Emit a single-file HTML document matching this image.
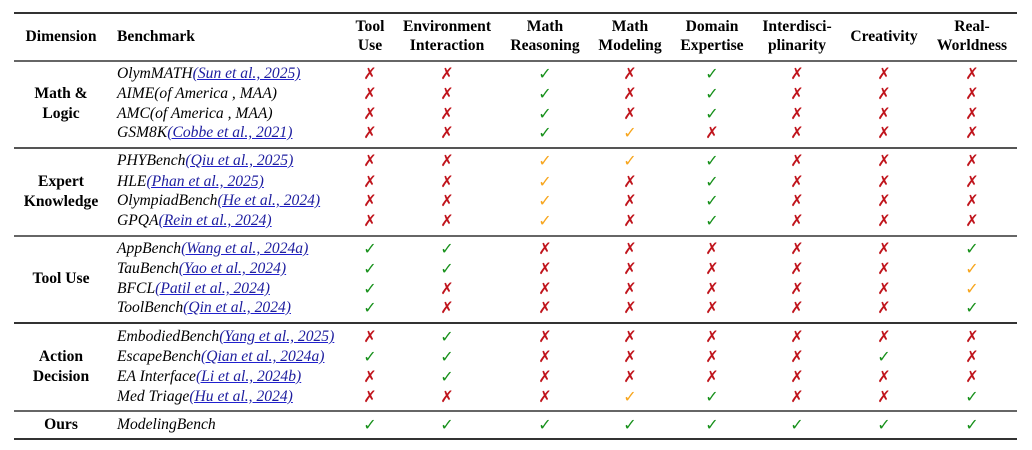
<!DOCTYPE html>
<html><head><meta charset="utf-8"><style>
body{margin:0;width:1032px;height:450px;background:#fff;position:relative;overflow:hidden;font-family:"Liberation Serif",serif;font-size:15.6px;color:#000}
.l{position:absolute;left:14px;width:1003px;background:#333}
.h{position:absolute;font-weight:bold;text-align:center;line-height:19px}
.r{position:absolute;left:0;width:1032px;height:20px;line-height:20px}
.r span{position:absolute;top:0}
.b{left:117px;font-style:italic;white-space:nowrap}
.b a{color:#1d1d9e;text-decoration:underline;text-decoration-color:#2020d0}
.c{width:40px;text-align:center;font-family:"DejaVu Sans",sans-serif;font-size:16px;font-weight:bold}
.g{color:#16901a}.o{color:#f7a51c}.x{color:#c0141c}
.c1{left:350px}.c2{left:427px}.c3{left:525px}.c4{left:610px}.c5{left:692px}.c6{left:777px}.c7{left:864px}.c8{left:952px}
.d{position:absolute;width:100px;left:11px;text-align:center;font-weight:bold;line-height:20px}
</style></head><body>
<div class="l" style="top:12px;height:2px"></div>
<div class="l" style="top:60px;height:2px;background:#666"></div>
<div class="l" style="top:147px;height:2px;background:#555"></div>
<div class="l" style="top:235px;height:2px;background:#666"></div>
<div class="l" style="top:322px;height:2px;background:#333"></div>
<div class="l" style="top:410px;height:2px;background:#666"></div>
<div class="l" style="top:438px;height:2px"></div>

<div class="h" style="left:11px;width:100px;top:27px">Dimension</div>
<div class="h" style="left:117px;top:27px;text-align:left">Benchmark</div>
<div class="h" style="left:330px;width:80px;top:17px">Tool<br>Use</div>
<div class="h" style="left:397px;width:100px;top:17px">Environment<br>Interaction</div>
<div class="h" style="left:495px;width:100px;top:17px">Math<br>Reasoning</div>
<div class="h" style="left:580px;width:100px;top:17px">Math<br>Modeling</div>
<div class="h" style="left:662px;width:100px;top:17px">Domain<br>Expertise</div>
<div class="h" style="left:747px;width:100px;top:17px">Interdisci-<br>plinarity</div>
<div class="h" style="left:834px;width:100px;top:27px">Creativity</div>
<div class="h" style="left:922px;width:100px;top:17px">Real-<br>Worldness</div>

<div class="d" style="top:84px">Math &amp;<br>Logic</div>
<div class="d" style="top:172px">Expert<br>Knowledge</div>
<div class="d" style="top:269px">Tool Use</div>
<div class="d" style="top:347px">Action<br>Decision</div>
<div class="d" style="top:415px">Ours</div>

<div class="r" style="top:64px"><span class="b">OlymMATH<a>(Sun et al., 2025)</a></span><span class="c c1 x">✗</span><span class="c c2 x">✗</span><span class="c c3 g">✓</span><span class="c c4 x">✗</span><span class="c c5 g">✓</span><span class="c c6 x">✗</span><span class="c c7 x">✗</span><span class="c c8 x">✗</span></div>
<div class="r" style="top:84px"><span class="b">AIME(of America , MAA)</span><span class="c c1 x">✗</span><span class="c c2 x">✗</span><span class="c c3 g">✓</span><span class="c c4 x">✗</span><span class="c c5 g">✓</span><span class="c c6 x">✗</span><span class="c c7 x">✗</span><span class="c c8 x">✗</span></div>
<div class="r" style="top:104px"><span class="b">AMC(of America , MAA)</span><span class="c c1 x">✗</span><span class="c c2 x">✗</span><span class="c c3 g">✓</span><span class="c c4 x">✗</span><span class="c c5 g">✓</span><span class="c c6 x">✗</span><span class="c c7 x">✗</span><span class="c c8 x">✗</span></div>
<div class="r" style="top:123px"><span class="b">GSM8K<a>(Cobbe et al., 2021)</a></span><span class="c c1 x">✗</span><span class="c c2 x">✗</span><span class="c c3 g">✓</span><span class="c c4 o">✓</span><span class="c c5 x">✗</span><span class="c c6 x">✗</span><span class="c c7 x">✗</span><span class="c c8 x">✗</span></div>

<div class="r" style="top:151px"><span class="b">PHYBench<a>(Qiu et al., 2025)</a></span><span class="c c1 x">✗</span><span class="c c2 x">✗</span><span class="c c3 o">✓</span><span class="c c4 o">✓</span><span class="c c5 g">✓</span><span class="c c6 x">✗</span><span class="c c7 x">✗</span><span class="c c8 x">✗</span></div>
<div class="r" style="top:172px"><span class="b">HLE<a>(Phan et al., 2025)</a></span><span class="c c1 x">✗</span><span class="c c2 x">✗</span><span class="c c3 o">✓</span><span class="c c4 x">✗</span><span class="c c5 g">✓</span><span class="c c6 x">✗</span><span class="c c7 x">✗</span><span class="c c8 x">✗</span></div>
<div class="r" style="top:191px"><span class="b">OlympiadBench<a>(He et al., 2024)</a></span><span class="c c1 x">✗</span><span class="c c2 x">✗</span><span class="c c3 o">✓</span><span class="c c4 x">✗</span><span class="c c5 g">✓</span><span class="c c6 x">✗</span><span class="c c7 x">✗</span><span class="c c8 x">✗</span></div>
<div class="r" style="top:211px"><span class="b">GPQA<a>(Rein et al., 2024)</a></span><span class="c c1 x">✗</span><span class="c c2 x">✗</span><span class="c c3 o">✓</span><span class="c c4 x">✗</span><span class="c c5 g">✓</span><span class="c c6 x">✗</span><span class="c c7 x">✗</span><span class="c c8 x">✗</span></div>

<div class="r" style="top:239px"><span class="b">AppBench<a>(Wang et al., 2024a)</a></span><span class="c c1 g">✓</span><span class="c c2 g">✓</span><span class="c c3 x">✗</span><span class="c c4 x">✗</span><span class="c c5 x">✗</span><span class="c c6 x">✗</span><span class="c c7 x">✗</span><span class="c c8 g">✓</span></div>
<div class="r" style="top:259px"><span class="b">TauBench<a>(Yao et al., 2024)</a></span><span class="c c1 g">✓</span><span class="c c2 g">✓</span><span class="c c3 x">✗</span><span class="c c4 x">✗</span><span class="c c5 x">✗</span><span class="c c6 x">✗</span><span class="c c7 x">✗</span><span class="c c8 o">✓</span></div>
<div class="r" style="top:279px"><span class="b">BFCL<a>(Patil et al., 2024)</a></span><span class="c c1 g">✓</span><span class="c c2 x">✗</span><span class="c c3 x">✗</span><span class="c c4 x">✗</span><span class="c c5 x">✗</span><span class="c c6 x">✗</span><span class="c c7 x">✗</span><span class="c c8 o">✓</span></div>
<div class="r" style="top:298px"><span class="b">ToolBench<a>(Qin et al., 2024)</a></span><span class="c c1 g">✓</span><span class="c c2 x">✗</span><span class="c c3 x">✗</span><span class="c c4 x">✗</span><span class="c c5 x">✗</span><span class="c c6 x">✗</span><span class="c c7 x">✗</span><span class="c c8 g">✓</span></div>

<div class="r" style="top:327px"><span class="b">EmbodiedBench<a>(Yang et al., 2025)</a></span><span class="c c1 x">✗</span><span class="c c2 g">✓</span><span class="c c3 x">✗</span><span class="c c4 x">✗</span><span class="c c5 x">✗</span><span class="c c6 x">✗</span><span class="c c7 x">✗</span><span class="c c8 x">✗</span></div>
<div class="r" style="top:347px"><span class="b">EscapeBench<a>(Qian et al., 2024a)</a></span><span class="c c1 g">✓</span><span class="c c2 g">✓</span><span class="c c3 x">✗</span><span class="c c4 x">✗</span><span class="c c5 x">✗</span><span class="c c6 x">✗</span><span class="c c7 g">✓</span><span class="c c8 x">✗</span></div>
<div class="r" style="top:367px"><span class="b">EA Interface<a>(Li et al., 2024b)</a></span><span class="c c1 x">✗</span><span class="c c2 g">✓</span><span class="c c3 x">✗</span><span class="c c4 x">✗</span><span class="c c5 x">✗</span><span class="c c6 x">✗</span><span class="c c7 x">✗</span><span class="c c8 x">✗</span></div>
<div class="r" style="top:387px"><span class="b">Med Triage<a>(Hu et al., 2024)</a></span><span class="c c1 x">✗</span><span class="c c2 x">✗</span><span class="c c3 x">✗</span><span class="c c4 o">✓</span><span class="c c5 g">✓</span><span class="c c6 x">✗</span><span class="c c7 x">✗</span><span class="c c8 g">✓</span></div>

<div class="r" style="top:415px"><span class="b">ModelingBench</span><span class="c c1 g">✓</span><span class="c c2 g">✓</span><span class="c c3 g">✓</span><span class="c c4 g">✓</span><span class="c c5 g">✓</span><span class="c c6 g">✓</span><span class="c c7 g">✓</span><span class="c c8 g">✓</span></div>
</body></html>
